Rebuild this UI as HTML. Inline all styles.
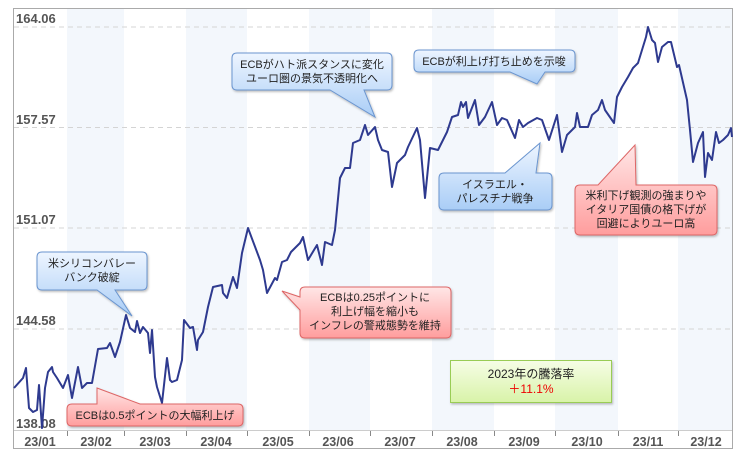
<!DOCTYPE html>
<html><head><meta charset="utf-8"><style>
html,body{margin:0;padding:0;background:#fff;}
svg{display:block;font-family:"Liberation Sans","Noto Sans CJK JP",sans-serif;}
</style></head><body>
<svg width="750" height="468" viewBox="0 0 750 468" xmlns="http://www.w3.org/2000/svg">
<defs>
<linearGradient id="gb" x1="0" y1="0" x2="0" y2="1"><stop offset="0" stop-color="#eef5ff"/><stop offset="1" stop-color="#a9cdf6"/></linearGradient>
<linearGradient id="gr" x1="0" y1="0" x2="0" y2="1"><stop offset="0" stop-color="#ffe6e6"/><stop offset="1" stop-color="#ff9d9d"/></linearGradient>
<linearGradient id="gg" x1="0" y1="0" x2="0" y2="1"><stop offset="0" stop-color="#f6fde6"/><stop offset="1" stop-color="#d8f3a8"/></linearGradient>
<filter id="sh" x="-10%" y="-10%" width="130%" height="140%"><feDropShadow dx="1" dy="1.5" stdDeviation="1" flood-color="#000" flood-opacity="0.25"/></filter>
</defs>
<rect x="13.5" y="8.5" width="719" height="440" fill="#fff" stroke="#aaa"/>
<g fill="#f3f7fc">
<rect x="67" y="9" width="57" height="421"/><rect x="186" y="9" width="61" height="421"/>
<rect x="309" y="9" width="61" height="421"/><rect x="432" y="9" width="62" height="421"/>
<rect x="555" y="9" width="63" height="421"/><rect x="678" y="9" width="54" height="421"/>
</g>
<g stroke="#d4d4d4" stroke-dasharray="5,4" stroke-width="1">
<line x1="14" y1="27" x2="732" y2="27"/><line x1="14" y1="127.5" x2="732" y2="127.5"/>
<line x1="14" y1="228" x2="732" y2="228"/><line x1="14" y1="329" x2="732" y2="329"/>
</g>
<line x1="14" y1="430.5" x2="732" y2="430.5" stroke="#ccc"/>
<g stroke="#888"><line x1="67.5" y1="431" x2="67.5" y2="436"/><line x1="124.5" y1="431" x2="124.5" y2="436"/><line x1="186.5" y1="431" x2="186.5" y2="436"/><line x1="247.5" y1="431" x2="247.5" y2="436"/><line x1="309.5" y1="431" x2="309.5" y2="436"/><line x1="370.5" y1="431" x2="370.5" y2="436"/><line x1="432.5" y1="431" x2="432.5" y2="436"/><line x1="494.5" y1="431" x2="494.5" y2="436"/><line x1="555.5" y1="431" x2="555.5" y2="436"/><line x1="618.5" y1="431" x2="618.5" y2="436"/><line x1="678.5" y1="431" x2="678.5" y2="436"/></g>
<g font-size="13" font-weight="bold" fill="#555">
<text x="16" y="23">164.06</text><text x="16" y="124">157.57</text><text x="16" y="224">151.07</text><text x="16" y="325">144.58</text><text x="16" y="428">138.08</text>
</g>
<g font-size="12.5" font-weight="bold" fill="#555" text-anchor="middle">
<text x="40" y="446">23/01</text><text x="96" y="446">23/02</text><text x="155" y="446">23/03</text><text x="216" y="446">23/04</text><text x="278" y="446">23/05</text><text x="338" y="446">23/06</text><text x="400" y="446">23/07</text><text x="462" y="446">23/08</text><text x="524" y="446">23/09</text><text x="587" y="446">23/10</text><text x="648" y="446">23/11</text><text x="706" y="446">23/12</text>
</g>
<polyline fill="none" stroke="#2e3a8f" stroke-width="2" stroke-linejoin="round" points="14,388 23,378 26,368 29,408 33,412 37,410 39,385 42,428 45,388 48,372 52,367 53,372 57,378 63,388 68,375 72,398 78,367 82,388 87,383 92,383 98,349 107,348 110,343 115,357 120,342 126,315 130,328 135,332 137,321 140,333 143,327 148,333 150,353 152,330 155,377 157,387 162,403 167,358 170,380 172,382 177,380 182,360 184,320 190,328 193,327 197,350 198,340 203,332 208,307 213,287 222,285 223,293 227,298 233,277 237,288 242,253 248,228 260,260 263,270 267,293 275,278 277,280 282,262 287,260 291,252 295,248 300,243 303,237 308,260 317,245 322,265 325,242 332,245 335,230 340,178 345,168 350,168 353,143 360,140 365,125 368,135 375,127 378,140 382,150 388,152 392,187 397,163 405,155 408,147 417,128 420,140 425,198 430,148 438,150 447,132 452,117 458,115 461,102 463,107 466,102 468,118 475,100 479,125 485,117 492,102 497,125 502,118 507,120 515,138 519,120 523,127 528,123 537,118 542,120 549,140 557,115 562,152 567,135 575,127 577,113 580,127 588,127 592,115 598,110 602,100 605,110 614,123 617,97 622,87 628,77 633,68 638,63 642,50 646,37 648,27 652,40 655,43 658,62 662,47 668,42 671,42 677,67 679,65 687,100 690,130 693,162 698,143 703,132 705,177 708,153 712,160 716,132 719,143 723,140 728,135 731,128 732,137"/>
<g stroke-width="1" filter="url(#sh)" font-size="11" fill="#222">
<path d="M42,252 H142 Q147,252 147,257 V285 Q147,290 142,290 H115 L132,316 L97,290 H42 Q37,290 37,285 V257 Q37,252 42,252 Z" fill="url(#gb)" stroke="#6b95cf"/>
<path d="M72,404 H97 V388 L140,404 H238 Q243,404 243,409 V421 Q243,426 238,426 H72 Q67,426 67,421 V409 Q67,404 72,404 Z" fill="url(#gr)" stroke="#d66"/>
<path d="M237,53 H387 Q392,53 392,58 V85 Q392,90 387,90 H364 L375,117 L330,90 H237 Q232,90 232,85 V58 Q232,53 237,53 Z" fill="url(#gb)" stroke="#6b95cf"/>
<path d="M419,50 H570 Q575,50 575,55 V67 Q575,72 570,72 H545 L537,84 L510,72 H419 Q414,72 414,67 V55 Q414,50 419,50 Z" fill="url(#gb)" stroke="#6b95cf"/>
<path d="M444,173 H505 L540,143 L536,173 H547 Q552,173 552,178 V205 Q552,210 547,210 H444 Q439,210 439,205 V178 Q439,173 444,173 Z" fill="url(#gb)" stroke="#6b95cf"/>
<path d="M305,287 H446 Q451,287 451,292 V333 Q451,338 446,338 H305 Q300,338 300,333 V310 L282,291 L300,297 V292 Q300,287 305,287 Z" fill="url(#gr)" stroke="#d66"/>
<path d="M580,185 H598 L635,145 L636,185 H712 Q717,185 717,190 V230 Q717,235 712,235 H580 Q575,235 575,230 V190 Q575,185 580,185 Z" fill="url(#gr)" stroke="#d66"/>
<rect x="450.5" y="360.5" width="161" height="42" fill="url(#gg)" stroke="#9c5"/>
</g>
<g font-size="11" fill="#222" text-anchor="middle">
<text x="92" y="267">米シリコンバレー</text><text x="92" y="281">バンク破綻</text>
<text x="155" y="419">ECBは0.5ポイントの大幅利上げ</text>
<text x="312" y="68">ECBがハト派スタンスに変化</text><text x="312" y="82">ユーロ圏の景気不透明化へ</text>
<text x="494" y="65">ECBが利上げ打ち止めを示唆</text>
<text x="495" y="188">イスラエル・</text><text x="495" y="202">パレスチナ戦争</text>
<text x="375" y="301">ECBは0.25ポイントに</text><text x="375" y="315">利上げ幅を縮小も</text><text x="375" y="329">インフレの警戒態勢を維持</text>
<text x="646" y="199">米利下げ観測の強まりや</text><text x="646" y="213">イタリア国債の格下げが</text><text x="646" y="227">回避によりユーロ高</text>
<text x="531" y="378" font-size="12">2023年の騰落率</text>
<text x="531" y="393" font-size="12" fill="#e00">＋11.1%</text>
</g>
</svg>
</body></html>
